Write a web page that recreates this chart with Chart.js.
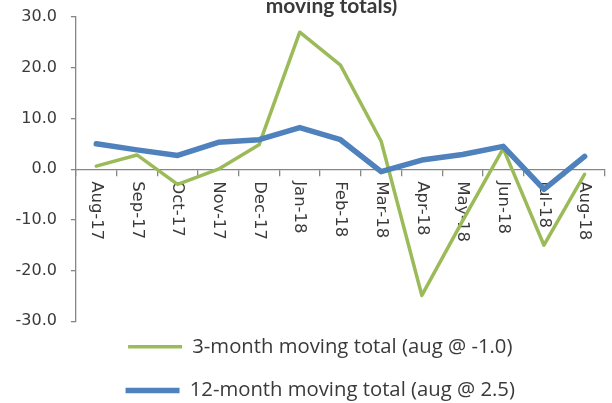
<!DOCTYPE html>
<html>
<head>
<meta charset="utf-8">
<script src="https://cdn.jsdelivr.net/npm/chart.js@4.4.1/dist/chart.umd.min.js"></script>
<style>
  html, body { margin: 0; padding: 0; background: #fff; }
  #wrap { width: 612px; height: 403px; }
</style>
</head>
<body>
<div id="wrap"><canvas id="chart" width="612" height="403"></canvas></div>
<script>
const months = ['Aug-17', 'Sep-17', 'Oct-17', 'Nov-17', 'Dec-17', 'Jan-18', 'Feb-18',
  'Mar-18', 'Apr-18', 'May-18', 'Jun-18', 'Jul-18', 'Aug-18'];

const total3m = [0.6, 2.8, -3.0, 0.0, 4.8, 27.0, 20.5, 5.5, -24.9, -10.2, 4.1, -15.0, -1.0];
const total12m = [5.0, 3.8, 2.7, 5.3, 5.8, 8.2, 5.8, -0.5, 1.8, 2.9, 4.5, -4.0, 2.5];

const label3m = '3-month moving total (aug @ -1.0)';
const label12m = '12-month moving total (aug @ 2.5)';
const titleLine = 'moving totals)';

const AXIS = '#868686';
const TEXT = '#3a3a3a';

// month labels hang below the zero line, rotated to read downward
const monthLabels = {
  id: 'monthLabels',
  beforeDatasetsDraw(chart) {
    const { ctx, scales: { x, y } } = chart;
    const top = y.getPixelForValue(0) + 12;
    ctx.save();
    ctx.font = '16.5px "DejaVu Sans"';
    ctx.fillStyle = TEXT;
    ctx.textAlign = 'left';
    ctx.textBaseline = 'middle';
    months.forEach((m, i) => {
      ctx.save();
      ctx.translate(x.getPixelForValue(i), top);
      ctx.rotate(Math.PI / 2);
      ctx.fillText(m, 0, 0);
      ctx.restore();
    });
    ctx.restore();
  },
};

const titleText = {
  id: 'titleText',
  afterDraw(chart) {
    const { ctx, chartArea } = chart;
    ctx.save();
    ctx.font = 'bold 21px Lato';
    ctx.fillStyle = TEXT;
    ctx.textAlign = 'center';
    ctx.textBaseline = 'alphabetic';
    ctx.fillText(titleLine, chartArea.left + chartArea.width * 0.483, 13);
    ctx.restore();
  },
};

// tuck the legend up under the plot and centre it on the lower block
const legendNudge = {
  id: 'legendNudge',
  afterLayout(chart) {
    const lg = chart.legend;
    lg.top -= 8;
    lg.bottom -= 8;
    lg.left += 17;
    lg.right += 17;
  },
};

new Chart(document.getElementById('chart'), {
  type: 'line',
  data: {
    labels: months,
    datasets: [{
      label: label3m,
      data: total3m,
      borderColor: '#9BBB59',
      backgroundColor: '#9BBB59',
      borderWidth: 3.5,
      borderCapStyle: 'round',
      borderJoinStyle: 'round',
      pointRadius: 0,
      tension: 0,
      order: 1,
    }, {
      label: label12m,
      data: total12m,
      borderColor: '#4F81BD',
      backgroundColor: '#4F81BD',
      borderWidth: 5.5,
      borderCapStyle: 'round',
      borderJoinStyle: 'round',
      pointRadius: 0,
      tension: 0,
      order: 0,
    }],
  },
  options: {
    responsive: false,
    animation: false,
    layout: { padding: { top: 17, left: 1.5, right: 7, bottom: -15.7 } },
    plugins: {
      title: { display: false },
      tooltip: { enabled: false },
      legend: {
        position: 'bottom',
        labels: {
          sort: (a, b) => a.datasetIndex - b.datasetIndex,
          usePointStyle: true,
          pointStyle: 'line',
          pointStyleWidth: 54,
          color: TEXT,
          font: { family: 'Open Sans', size: 20.3 },
          padding: 23.4,
        },
      },
    },
    scales: {
      x: {
        type: 'category',
        offset: true,
        position: { y: 0 },
        ticks: { display: false },
        grid: {
          offset: true,
          drawOnChartArea: false,
          drawTicks: true,
          tickLength: 6,
          color: AXIS,
          lineWidth: 1.3,
        },
        border: { color: AXIS, width: 1.3 },
      },
      y: {
        min: -30,
        max: 30,
        afterFit: (scale) => {
          scale.paddingTop = 9;
          scale.paddingBottom = 9;
        },
        ticks: {
          stepSize: 10,
          padding: 14,
          color: TEXT,
          font: { family: 'DejaVu Sans', size: 16 },
          callback: (v) => v.toFixed(1),
        },
        grid: {
          drawOnChartArea: false,
          drawTicks: true,
          tickLength: 5,
          color: AXIS,
          lineWidth: 1.3,
        },
        border: { color: AXIS, width: 1.3 },
      },
    },
  },
  plugins: [monthLabels, titleText, legendNudge],
});
</script>
</body>
</html>
